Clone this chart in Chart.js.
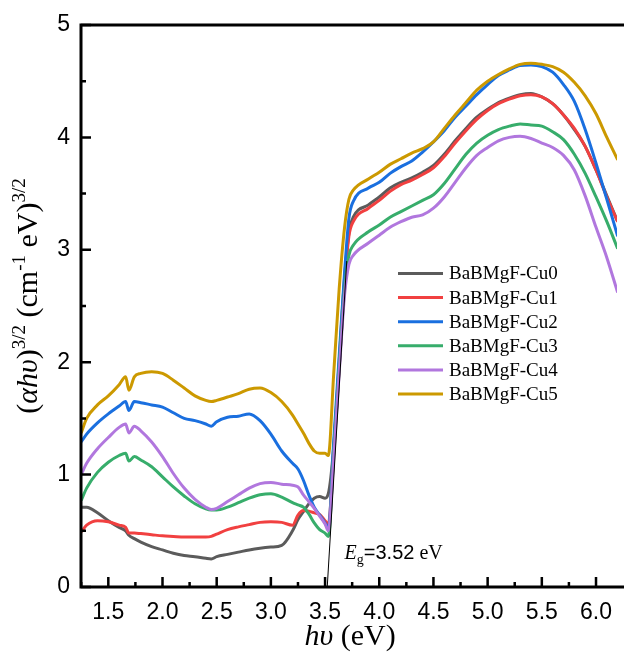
<!DOCTYPE html>
<html lang="en">
<head>
<meta charset="UTF-8">
<title>Tauc plot - BaBMgF-Cu</title>
<script src="https://cdn.jsdelivr.net/npm/chart.js@4.4.0/dist/chart.umd.min.js"></script>
<style>
    html, body { margin: 0; padding: 0; background: #fff; overflow: hidden; }
    #wrap { width: 624px; height: 655px; }
</style>
</head>
<body>
<div id="wrap"><canvas id="tauc" width="624" height="655"></canvas></div>
<script>
// photon energy (eV), shared by all curves
const energy = [1.25, 1.3, 1.4, 1.5, 1.6, 1.66, 1.69, 1.74, 1.8, 1.9,
    2.0, 2.1, 2.2, 2.3, 2.4, 2.45, 2.5, 2.6, 2.7, 2.8,
    2.9, 3.0, 3.1, 3.2, 3.25, 3.3, 3.35, 3.4, 3.45, 3.5,
    3.53, 3.58, 3.63, 3.68, 3.72, 3.76, 3.9, 4.0, 4.1, 4.2,
    4.3, 4.4, 4.5, 4.6, 4.7, 4.8, 4.9, 5.0, 5.1, 5.2,
    5.3, 5.4, 5.5, 5.6, 5.7, 5.8, 5.9, 6.0, 6.1, 6.2];

// (ahv)^(3/2)
const cu0 = [0.71, 0.71, 0.66, 0.59, 0.53, 0.50, 0.46, 0.43, 0.40, 0.36,
    0.33, 0.30, 0.28, 0.27, 0.255, 0.25, 0.27, 0.29, 0.31, 0.33,
    0.345, 0.355, 0.37, 0.50, 0.60, 0.67, 0.74, 0.79, 0.805, 0.79,
    0.83, 1.25, 2.00, 2.75, 3.15, 3.29, 3.40, 3.47, 3.55, 3.60,
    3.64, 3.69, 3.75, 3.85, 3.97, 4.08, 4.18, 4.25, 4.31, 4.35,
    4.38, 4.39, 4.36, 4.30, 4.20, 4.07, 3.92, 3.71, 3.48, 3.25];
const cu1 = [0.49, 0.55, 0.59, 0.58, 0.55, 0.53, 0.48, 0.48, 0.475, 0.465,
    0.455, 0.45, 0.445, 0.445, 0.445, 0.45, 0.47, 0.51, 0.535, 0.555,
    0.575, 0.58, 0.575, 0.55, 0.64, 0.68, 0.675, 0.66, 0.645, 0.59,
    0.56, 1.20, 1.95, 2.70, 3.12, 3.25, 3.37, 3.44, 3.52, 3.58,
    3.62, 3.67, 3.73, 3.83, 3.95, 4.06, 4.16, 4.24, 4.30, 4.34,
    4.37, 4.38, 4.36, 4.30, 4.20, 4.08, 3.92, 3.71, 3.47, 3.25];
const cu2 = [1.29, 1.36, 1.46, 1.54, 1.61, 1.65, 1.57, 1.65, 1.64, 1.62,
    1.60, 1.55, 1.50, 1.48, 1.45, 1.43, 1.47, 1.51, 1.52, 1.54,
    1.48, 1.36, 1.21, 1.10, 1.05, 0.95, 0.82, 0.71, 0.64, 0.57,
    0.52, 1.30, 2.05, 2.80, 3.28, 3.43, 3.55, 3.60, 3.68, 3.74,
    3.79, 3.87, 3.96, 4.06, 4.18, 4.28, 4.38, 4.47, 4.55, 4.60,
    4.64, 4.645, 4.63, 4.58, 4.47, 4.32, 4.07, 3.77, 3.45, 3.12];
const cu3 = [0.77, 0.88, 1.02, 1.11, 1.17, 1.19, 1.12, 1.16, 1.13, 1.07,
    0.98, 0.89, 0.81, 0.74, 0.695, 0.685, 0.685, 0.71, 0.75, 0.79,
    0.82, 0.83, 0.80, 0.75, 0.73, 0.71, 0.65, 0.57, 0.51, 0.48,
    0.45, 1.20, 1.95, 2.65, 2.95, 3.04, 3.16, 3.22, 3.29, 3.34,
    3.39, 3.44, 3.49, 3.59, 3.72, 3.85, 3.95, 4.02, 4.07, 4.10,
    4.12, 4.11, 4.10, 4.05, 3.98, 3.85, 3.68, 3.47, 3.25, 3.01];
const cu4 = [1.00, 1.10, 1.23, 1.33, 1.42, 1.45, 1.37, 1.43, 1.39, 1.29,
    1.16, 1.01, 0.88, 0.78, 0.71, 0.69, 0.70, 0.76, 0.82, 0.88,
    0.92, 0.93, 0.915, 0.905, 0.89, 0.82, 0.76, 0.70, 0.63, 0.56,
    0.50, 1.15, 1.90, 2.60, 2.87, 2.95, 3.06, 3.13, 3.20, 3.25,
    3.29, 3.31, 3.37, 3.47, 3.60, 3.73, 3.84, 3.91, 3.97, 4.00,
    4.01, 3.99, 3.95, 3.91, 3.84, 3.71, 3.48, 3.20, 2.93, 2.62];
const cu5 = [1.37, 1.50, 1.62, 1.70, 1.80, 1.87, 1.75, 1.87, 1.90, 1.915,
    1.90, 1.84, 1.77, 1.70, 1.66, 1.65, 1.66, 1.69, 1.72, 1.76,
    1.77, 1.73, 1.65, 1.53, 1.45, 1.37, 1.28, 1.21, 1.19, 1.19,
    1.17, 1.90, 2.65, 3.20, 3.45, 3.53, 3.63, 3.69, 3.76, 3.81,
    3.86, 3.90, 3.96, 4.08, 4.20, 4.31, 4.42, 4.50, 4.56, 4.61,
    4.65, 4.66, 4.65, 4.63, 4.58, 4.49, 4.37, 4.21, 4.00, 3.80];

const seriesNames = ['BaBMgF-Cu0', 'BaBMgF-Cu1', 'BaBMgF-Cu2', 'BaBMgF-Cu3', 'BaBMgF-Cu4', 'BaBMgF-Cu5'];
const seriesValues = [cu0, cu1, cu2, cu3, cu4, cu5];
const seriesColors = ['#5b5b5b', '#f14040', '#1a6fdf', '#37ad6b', '#b177de', '#cc9900'];

// tick labels
const xMajor = [1.5, 2.0, 2.5, 3.0, 3.5, 4.0, 4.5, 5.0, 5.5, 6.0];
const yMajor = [0, 1, 2, 3, 4, 5];

// band gap tangent
const egValue = 3.52;
const tangentX = [3.52, 3.70];
const tangentY = [0, 2.9];

const SERIF = "'Liberation Serif', 'Times New Roman', serif";
const SANS = "'Liberation Sans', Arial, sans-serif";

function withMinor(major) {
    const out = [];
    const step = major[1] - major[0];
    out.push(major[0] - step / 2);
    major.forEach(v => { out.push(v); out.push(v + step / 2); });
    return out;
}
const xAll = withMinor(xMajor).filter(v => v > 1.248 && v < 6.19);
const yAll = withMinor(yMajor).filter(v => v >= 0 && v <= 5);

function isMajor(v, list) {
    return list.some(m => Math.abs(m - v) < 1e-6);
}

function richText(ctx, parts, x, y, align) {
    let w = 0;
    parts.forEach(p => { ctx.font = p[1]; w += ctx.measureText(p[0]).width; });
    let cx = align === 'center' ? x - w / 2 : x;
    parts.forEach(p => {
        ctx.font = p[1];
        ctx.fillText(p[0], cx, y - (p[2] || 0));
        cx += ctx.measureText(p[0]).width;
    });
}

const datasets = seriesValues.map((vals, i) => ({
    label: seriesNames[i],
    data: energy.map((e, k) => ({ x: e, y: vals[k] })),
    borderColor: seriesColors[i],
    borderWidth: 3,
    pointRadius: 0,
    fill: false,
    cubicInterpolationMode: 'monotone',
    order: seriesValues.length - i
}));
datasets.push({
    label: 'tangent',
    data: tangentX.map((e, k) => ({ x: e, y: tangentY[k] })),
    borderColor: '#000',
    borderWidth: 1,
    pointRadius: 0,
    fill: false,
    order: 0
});

const frame = {
    id: 'frame',
    afterDraw(chart) {
        const { ctx, chartArea: a, scales: { x, y } } = chart;
        ctx.save();
        // axes + top border
        ctx.strokeStyle = '#000';
        ctx.lineWidth = 3;
        ctx.beginPath();
        ctx.moveTo(chart.width, a.top);
        ctx.lineTo(a.left, a.top);
        ctx.lineTo(a.left, a.bottom);
        ctx.lineTo(chart.width, a.bottom);
        ctx.stroke();

        // inward ticks
        ctx.lineWidth = 2.5;
        ctx.beginPath();
        xAll.forEach(v => {
            const px = x.getPixelForValue(v);
            const len = isMajor(v, xMajor) ? 10 : 5;
            ctx.moveTo(px, a.bottom);
            ctx.lineTo(px, a.bottom - len);
        });
        yAll.forEach(v => {
            const py = y.getPixelForValue(v);
            const len = isMajor(v, yMajor) ? 10 : 5;
            ctx.moveTo(a.left, py);
            ctx.lineTo(a.left + len, py);
        });
        ctx.stroke();

        ctx.fillStyle = '#000';
        ctx.textAlign = 'left';
        ctx.textBaseline = 'alphabetic';

        // y title
        ctx.save();
        ctx.translate(37, 296);
        ctx.rotate(-Math.PI / 2);
        richText(ctx, [
            ['(', '30px ' + SERIF],
            ['\u03b1h\u03c5', 'italic 30px ' + SERIF],
            [')', '30px ' + SERIF],
            ['3/2', '19px ' + SERIF, 12],
            [' (cm', '30px ' + SERIF],
            ['-1', '19px ' + SERIF, 12],
            [' eV)', '30px ' + SERIF],
            ['3/2', '19px ' + SERIF, 12]
        ], 0, 0, 'center');
        ctx.restore();

        // x title
        richText(ctx, [
            ['h\u03c5', 'italic 30px ' + SERIF],
            [' (eV)', '30px ' + SERIF]
        ], 350, 645, 'center');

        // band gap label
        richText(ctx, [
            ['E', 'italic 20px ' + SERIF],
            ['g', '14px ' + SERIF, -5],
            ['=' + egValue.toFixed(2), '20px ' + SANS],
            [' eV', '20px ' + SERIF]
        ], x.getPixelForValue(3.68), 559, 'left');

        // legend
        ctx.textBaseline = 'middle';
        ctx.font = '19px ' + SERIF;
        seriesNames.forEach((name, i) => {
            const ly = 273.5 + i * 24.1;
            ctx.strokeStyle = seriesColors[i];
            ctx.lineWidth = 3;
            ctx.beginPath();
            ctx.moveTo(398, ly);
            ctx.lineTo(443, ly);
            ctx.stroke();
            ctx.fillText(name, 449, ly + 1);
        });
        ctx.restore();
    }
};

new Chart(document.getElementById('tauc'), {
    type: 'line',
    data: { datasets },
    options: {
        responsive: false,
        animation: false,
        devicePixelRatio: 1,
        layout: { padding: { top: 25, right: 0, left: 0, bottom: 0 } },
        plugins: { legend: { display: false }, tooltip: { enabled: false }, title: { display: false } },
        scales: {
            x: {
                type: 'linear',
                min: 1.248,
                max: 6.194,
                afterBuildTicks: s => { s.ticks = xAll.map(v => ({ value: v })); },
                afterFit: s => { s.height = 68; },
                grid: { display: false, drawTicks: false },
                border: { display: false },
                ticks: {
                    autoSkip: false,
                    maxRotation: 0,
                    padding: 12,
                    color: '#000',
                    font: { family: SANS, size: 23 },
                    callback: v => isMajor(v, xMajor) ? v.toFixed(1) : ''
                }
            },
            y: {
                min: 0,
                max: 5,
                afterBuildTicks: s => { s.ticks = yAll.map(v => ({ value: v })); },
                afterFit: s => { s.width = 81; },
                grid: { display: false, drawTicks: false },
                border: { display: false },
                ticks: {
                    autoSkip: false,
                    padding: 11,
                    color: '#000',
                    font: { family: SANS, size: 23 },
                    callback: v => isMajor(v, yMajor) ? String(v) : ''
                }
            }
        }
    },
    plugins: [frame]
});
</script>
</body>
</html>
